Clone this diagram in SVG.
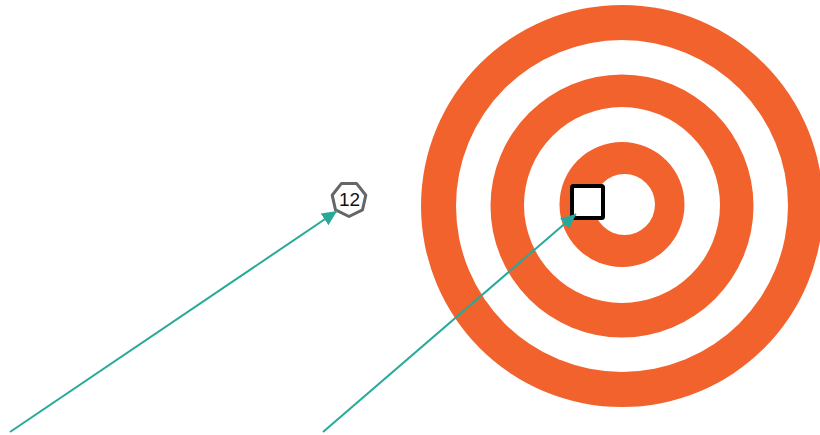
<svg xmlns="http://www.w3.org/2000/svg" width="820" height="435" viewBox="0 0 820 435">
<style>
.ring{fill:#F1622D}
.gap{fill:#FFFFFF}
.conn{stroke:#27A99A;stroke-width:2;fill:none}
.hept{fill:#FFFFFF;stroke:#666666;stroke-width:3;stroke-linejoin:round}
.lbl{font-family:"Liberation Sans",Arial,sans-serif;font-size:19px;fill:#111111;text-anchor:middle}
</style>
<defs>
<marker id="ah" markerUnits="userSpaceOnUse" markerWidth="16" markerHeight="14" refX="15" refY="7" orient="auto">
<path d="M0,0 L15,7 L0,14 z" fill="#27A99A"/>
</marker>
</defs>
<rect width="820" height="435" fill="#FFFFFF"/>
<g id="target">
<circle class="ring" cx="622" cy="206" r="201"/>
<circle class="gap" cx="622" cy="206" r="166"/>
<circle class="ring" cx="622" cy="206" r="131.5"/>
<circle class="gap" cx="622" cy="205" r="98"/>
<circle class="ring" cx="622" cy="204.5" r="62.5"/>
<circle class="gap" cx="624.5" cy="204.5" r="30.5"/>
</g>
<g id="square">
<rect x="572" y="186" width="31" height="32" rx="1.5" fill="#FFFFFF" stroke="#000000" stroke-width="4"/>
</g>
<g id="badge">
<polygon class="hept" points="349,216.5 335.5,209.8 332.2,195.2 341.5,183.4 356.5,183.4 365.8,195.2 362.5,209.8"/>
<text class="lbl" x="349.5" y="206">12</text>
</g>
<g id="connectors">
<line class="conn" x1="10" y1="432" x2="337" y2="211" marker-end="url(#ah)"/>
<line class="conn" x1="323" y1="432" x2="576" y2="214" marker-end="url(#ah)"/>
</g>
</svg>
